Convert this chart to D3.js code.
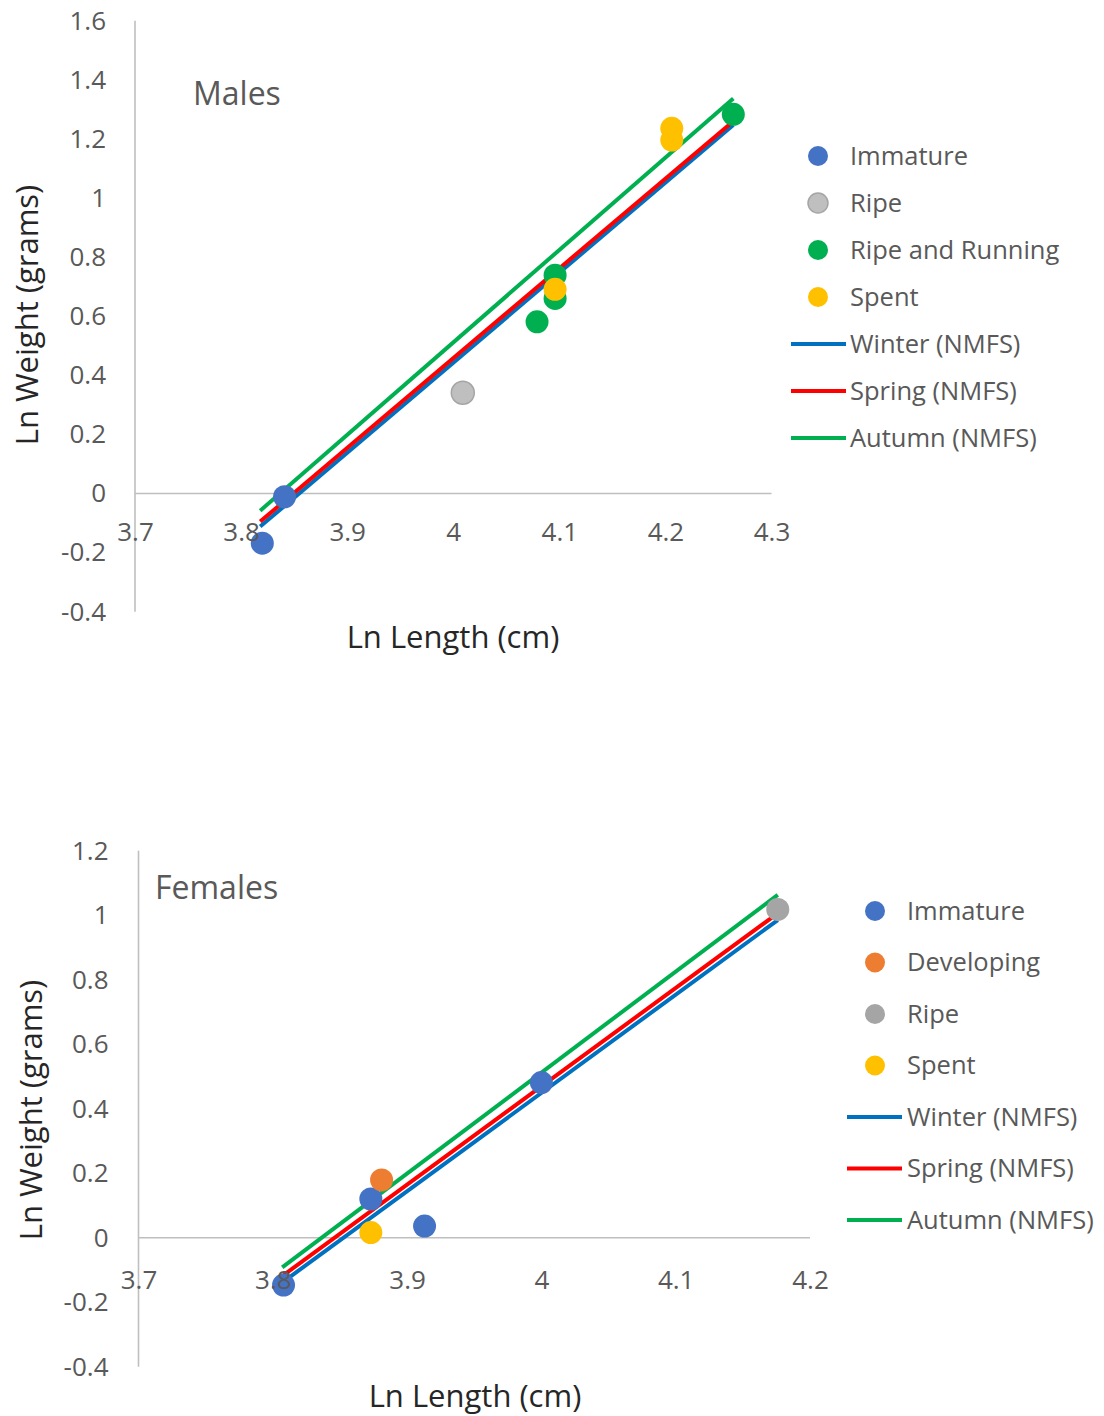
<!DOCTYPE html>
<html>
<head>
<meta charset="utf-8">
<script src="https://cdn.jsdelivr.net/npm/d3@7"></script>
<style>
  body { margin: 0; background: #fff; }
  svg { font-family: "Open Sans", sans-serif; }
  .tick text { fill: #595959; font-size: 26px; }
  .axis-title { fill: #262626; font-size: 31px; }
  .panel-title { fill: #595959; font-size: 32px; }
  .legend text { fill: #595959; font-size: 25.5px; }
</style>
</head>
<body>
<script>
// ---- data ----
// males: [ln length, ln weight]
var maleImmature = [[3.820, -0.168], [3.841, -0.011]];
var maleRipe = [[4.009, 0.341]];
var maleRipeRunning = [[4.079, 0.581], [4.096, 0.739], [4.096, 0.660], [4.264, 1.283]];
var maleSpent = [[4.206, 1.236], [4.206, 1.196], [4.096, 0.691]];

// females
var femaleImmature = [[3.808, -0.147], [3.873, 0.120], [3.913, 0.036], [4.000, 0.481]];
var femaleDeveloping = [[3.881, 0.179]];
var femaleRipe = [[4.176, 1.018]];
var femaleSpent = [[3.873, 0.016]];

// NMFS length-weight lines (start, end)
var maleWinter = [[3.818, -0.112], [4.264, 1.247]];
var maleSpring = [[3.818, -0.095], [4.264, 1.260]];
var maleAutumn = [[3.818, -0.058], [4.264, 1.337]];
var femaleWinter = [[3.808, -0.136], [4.176, 0.985]];
var femaleSpring = [[3.808, -0.116], [4.176, 1.006]];
var femaleAutumn = [[3.807, -0.092], [4.176, 1.063]];

var maleXTicks = [3.7, 3.8, 3.9, 4.0, 4.1, 4.2, 4.3];
var maleYTicks = [-0.4, -0.2, 0, 0.2, 0.4, 0.6, 0.8, 1.0, 1.2, 1.4, 1.6];
var femaleXTicks = [3.7, 3.8, 3.9, 4.0, 4.1, 4.2];
var femaleYTicks = [-0.4, -0.2, 0, 0.2, 0.4, 0.6, 0.8, 1.0, 1.2];

var seasonNames = ["Winter (NMFS)", "Spring (NMFS)", "Autumn (NMFS)"];
var seasonColors = ["#0070c0", "#ff0000", "#00b050"];

var svg = d3.select("body").append("svg")
    .attr("width", 1104)
    .attr("height", 1416);

var fmt = function(d){ return String(+d.toFixed(1)); };

function drawPanel(p){
    var x = d3.scaleLinear().domain(p.xDomain).range(p.xRange);
    var y = d3.scaleLinear().domain(p.yDomain).range(p.yRange);
    var g = svg.append("g");

    // axis lines first (under the marks)
    g.append("line")
        .attr("x1", x(p.xDomain[0])).attr("x2", x(p.xDomain[1]))
        .attr("y1", y(0)).attr("y2", y(0))
        .attr("stroke", "#bfbfbf").attr("stroke-width", 1.6);
    g.append("line")
        .attr("x1", x(p.xDomain[0])).attr("x2", x(p.xDomain[0]))
        .attr("y1", y(p.yDomain[0])).attr("y2", y(p.yDomain[1]))
        .attr("stroke", "#bfbfbf").attr("stroke-width", 1.6);

    // fitted lines
    var line = d3.line().x(function(d){ return x(d[0]); }).y(function(d){ return y(d[1]); });
    g.selectAll(".fit")
        .data(p.lines)
        .enter()
        .append("path")
        .attr("class", "fit")
        .attr("d", line)
        .attr("fill", "none")
        .attr("stroke", function(d, i){ return seasonColors[i]; })
        .attr("stroke-width", 4);

    // points
    p.groups.forEach(function(grp){
        g.selectAll(null)
            .data(grp.points)
            .enter()
            .append("circle")
            .attr("cx", function(d){ return x(d[0]); })
            .attr("cy", function(d){ return y(d[1]); })
            .attr("r", 11.5)
            .attr("fill", grp.color)
            .attr("stroke", grp.stroke || "none")
            .attr("stroke-width", 1.5);
    });

    // tick labels on top
    var xAxis = g.append("g")
        .attr("transform", "translate(0," + y(0) + ")")
        .call(d3.axisBottom(x).tickValues(p.xTicks).tickFormat(fmt).tickSize(0).tickSizeOuter(0));
    xAxis.selectAll("text").attr("dy", 0).attr("y", p.xLabelOffset);

    var yAxis = g.append("g")
        .attr("transform", "translate(" + x(p.xDomain[0]) + ",0)")
        .call(d3.axisLeft(y).tickValues(p.yTicks).tickFormat(fmt).tickSize(0).tickSizeOuter(0).tickPadding(p.yPad));

    g.selectAll(".domain").remove();
    xAxis.attr("font-size", null).attr("font-family", null);
    yAxis.attr("font-size", null).attr("font-family", null);

    // titles
    g.append("text")
        .attr("class", "panel-title")
        .attr("x", p.title.x)
        .attr("y", p.title.y)
        .text(p.title.text);

    g.append("text")
        .attr("class", "axis-title")
        .attr("x", p.xTitle[0])
        .attr("y", p.xTitle[1])
        .attr("text-anchor", "middle")
        .text("Ln Length (cm)");

    g.append("text")
        .attr("class", "axis-title")
        .attr("transform", "translate(" + p.yTitle[0] + "," + p.yTitle[1] + ") rotate(-90)")
        .attr("text-anchor", "middle")
        .text("Ln Weight (grams)");

    // legend
    var leg = g.append("g").attr("class", "legend");
    var items = p.groups.map(function(grp){ return {name: grp.name, color: grp.color, stroke: grp.stroke, type: "dot"}; })
        .concat(seasonNames.map(function(s, i){ return {name: s, color: seasonColors[i], type: "line"}; }));

    var row = leg.selectAll(".row")
        .data(items)
        .enter()
        .append("g")
        .attr("class", "row")
        .attr("transform", function(d, i){ return "translate(0," + (p.legend.y + i * p.legend.step) + ")"; });

    row.filter(function(d){ return d.type == "dot"; })
        .append("circle")
        .attr("cx", p.legend.dotX)
        .attr("r", 10)
        .attr("fill", function(d){ return d.color; })
        .attr("stroke", function(d){ return d.stroke || "none"; })
        .attr("stroke-width", 1.5);

    row.filter(function(d){ return d.type == "line"; })
        .append("line")
        .attr("x1", p.legend.lineX[0])
        .attr("x2", p.legend.lineX[1])
        .attr("stroke", function(d){ return d.color; })
        .attr("stroke-width", 4);

    row.append("text")
        .attr("x", p.legend.textX)
        .attr("dy", "0.35em")
        .text(function(d){ return d.name; });
}

drawPanel({
    xDomain: [3.7, 4.3], xRange: [135, 771.5],
    yDomain: [-0.4, 1.6], yRange: [611.7, 20.7],
    xTicks: maleXTicks, yTicks: maleYTicks,
    xLabelOffset: 47, yPad: 29,
    lines: [maleWinter, maleSpring, maleAutumn],
    groups: [
        {name: "Immature", color: "#4472c4", points: maleImmature},
        {name: "Ripe", color: "#bfbfbf", stroke: "#a5a5a5", points: maleRipe},
        {name: "Ripe and Running", color: "#00b050", points: maleRipeRunning},
        {name: "Spent", color: "#ffc000", points: maleSpent}
    ],
    title: {text: "Males", x: 193, y: 105},
    xTitle: [453, 648], yTitle: [38, 315],
    legend: {y: 156, step: 47, dotX: 818, lineX: [791, 846], textX: 850}
});

drawPanel({
    xDomain: [3.7, 4.2], xRange: [138.5, 810],
    yDomain: [-0.4, 1.2], yRange: [1366.7, 850.7],
    xTicks: femaleXTicks, yTicks: femaleYTicks,
    xLabelOffset: 51, yPad: 30,
    lines: [femaleWinter, femaleSpring, femaleAutumn],
    groups: [
        {name: "Immature", color: "#4472c4", points: femaleImmature},
        {name: "Developing", color: "#ed7d31", points: femaleDeveloping},
        {name: "Ripe", color: "#a5a5a5", points: femaleRipe},
        {name: "Spent", color: "#ffc000", points: femaleSpent}
    ],
    title: {text: "Females", x: 155, y: 899},
    xTitle: [475, 1407], yTitle: [42, 1110],
    legend: {y: 911, step: 51.5, dotX: 875, lineX: [847, 902], textX: 907}
});
</script>
</body>
</html>
